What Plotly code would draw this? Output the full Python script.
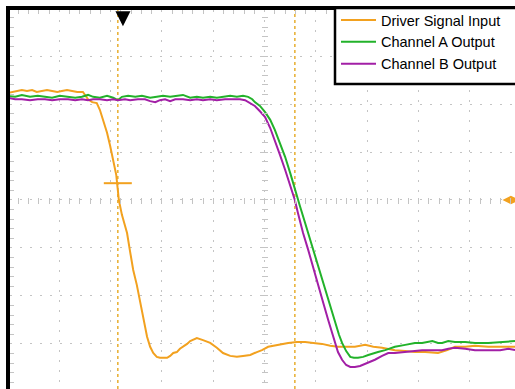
import plotly.graph_objects as go

# ---- data (time in ns, 10 ns/div; voltage in divisions) ----
drv_t = [0.0, 0.8, 1.8, 2.7, 3.7, 4.7, 5.6, 6.6, 7.6, 8.6, 9.6, 10.5, 11.5, 12.5, 13.5, 14.6, 15.6, 16.4,
         17.3, 17.9, 18.5, 19.3, 19.9, 20.5, 21.1, 21.4, 21.6, 22.2, 23.2, 23.8, 24.4, 25.1, 25.7, 26.3,
         27.1, 27.7, 28.3, 29.0, 29.6, 31.0, 31.6, 32.2, 32.9, 33.5, 34.1, 34.9, 35.5, 36.8, 38.0, 39.4,
         40.7, 41.9, 43.3, 44.6, 45.8, 47.2, 48.5, 49.5, 50.7, 52.6, 54.6, 56.3, 57.9, 59.5, 61.2, 62.8,
         64.3, 65.9, 67.6, 69.6, 71.2, 72.9, 75.4, 77.4, 79.3, 81.3, 83.8, 85.6, 87.1, 89.1, 91.0, 93.6,
         95.9, 98.8]
drv_v = [2.23, 2.25, 2.27, 2.29, 2.27, 2.29, 2.25, 2.27, 2.29, 2.27, 2.25, 2.27, 2.29, 2.27, 2.25, 2.25, 2.10, 2.04,
         2.02, 1.88, 1.67, 1.40, 1.13, 0.83, 0.52, 0.21, 0.00, -0.31, -0.69, -1.08, -1.46, -1.77, -2.08, -2.46,
         -2.85, -3.06, -3.19, -3.27, -3.29, -3.29, -3.25, -3.19, -3.17, -3.10, -3.06, -3.00, -2.94, -2.88, -2.92, -2.98,
         -3.08, -3.19, -3.25, -3.27, -3.25, -3.23, -3.17, -3.13, -3.06, -3.02, -2.98, -2.96, -2.96, -2.98, -3.00, -3.04,
         -3.06, -3.06, -3.06, -3.02, -3.06, -3.08, -3.13, -3.15, -3.17, -3.17, -3.19, -3.13, -3.06, -3.06, -3.04, -3.06,
         -3.06, -3.06]

cha_t = [0.0, 1.4, 2.7, 4.3, 5.8, 7.2, 8.6, 10.1, 11.7, 13.1, 14.4, 15.6, 16.6, 17.9, 19.3, 20.5, 21.4, 22.2,
         23.4, 24.8, 26.1, 27.7, 29.0, 30.2, 31.6, 32.9, 34.1, 35.5, 36.8, 38.0, 39.4, 40.7, 41.9, 43.3, 44.6,
         45.8, 46.8, 47.6, 48.1, 49.1, 50.1, 51.1, 52.0, 53.0, 54.0, 55.0, 55.9, 56.9, 57.9, 58.9, 59.8, 60.8,
         61.8, 62.8, 63.7, 64.5, 65.1, 65.9, 66.7, 67.4, 68.2, 69.2, 70.2, 71.2, 72.1, 73.5, 75.4, 77.4, 79.3,
         80.7, 82.7, 83.8, 84.6, 85.8, 87.1, 89.1, 91.0, 93.6, 95.9, 97.5, 98.8]
cha_v = [2.17, 2.15, 2.19, 2.15, 2.17, 2.15, 2.13, 2.17, 2.15, 2.13, 2.15, 2.19, 2.15, 2.13, 2.17, 2.13, 2.08, 2.15,
         2.17, 2.15, 2.17, 2.13, 2.15, 2.17, 2.15, 2.17, 2.19, 2.13, 2.15, 2.13, 2.15, 2.13, 2.15, 2.17, 2.15,
         2.17, 2.15, 2.10, 2.04, 1.96, 1.83, 1.67, 1.46, 1.19, 0.90, 0.56, 0.21, -0.13, -0.48, -0.83, -1.19, -1.52,
         -1.88, -2.23, -2.56, -2.81, -2.98, -3.15, -3.27, -3.29, -3.29, -3.27, -3.23, -3.19, -3.17, -3.13, -3.06, -3.02, -2.98,
         -2.98, -2.94, -2.98, -2.98, -2.94, -2.96, -2.96, -2.98, -2.98, -2.96, -2.94, -2.94]

chb_t = [0.0, 1.4, 2.7, 4.3, 5.8, 7.2, 8.6, 10.1, 11.7, 13.1, 14.4, 15.6, 16.6, 17.9, 19.3, 20.5, 21.4, 22.8,
         23.8, 25.3, 26.7, 27.7, 28.7, 29.6, 30.6, 31.6, 32.6, 34.1, 35.5, 36.8, 38.0, 39.4, 40.7, 42.3, 43.7,
         45.2, 46.2, 47.2, 48.1, 49.1, 50.1, 51.1, 52.0, 53.0, 54.0, 55.0, 55.9, 56.5, 57.5, 58.5, 59.5, 60.4,
         61.4, 62.4, 63.2, 63.7, 64.3, 65.1, 65.9, 66.7, 67.6, 68.6, 69.6, 70.6, 71.5, 72.9, 74.1, 75.4, 77.4,
         78.9, 80.7, 82.7, 84.6, 85.8, 87.1, 89.1, 91.0, 93.6, 95.9, 97.5, 98.8]
chb_v = [2.13, 2.10, 2.10, 2.08, 2.10, 2.10, 2.08, 2.10, 2.10, 2.08, 2.10, 2.08, 2.10, 2.10, 2.08, 2.10, 2.08, 2.10,
         2.08, 2.10, 2.10, 2.06, 2.04, 2.08, 2.10, 2.06, 2.10, 2.10, 2.08, 2.10, 2.08, 2.10, 2.08, 2.10, 2.10,
         2.10, 2.08, 2.02, 1.96, 1.85, 1.73, 1.50, 1.25, 0.94, 0.63, 0.31, 0.00, -0.27, -0.69, -1.04, -1.40, -1.73,
         -2.13, -2.50, -2.77, -2.98, -3.17, -3.33, -3.44, -3.48, -3.48, -3.46, -3.42, -3.38, -3.33, -3.25, -3.19, -3.19, -3.17,
         -3.15, -3.13, -3.13, -3.13, -3.10, -3.08, -3.10, -3.13, -3.13, -3.13, -3.10, -3.13]

series_names = ["Driver Signal Input", "Channel A Output", "Channel B Output"]
cursor_times = [21.4, 55.9]
trigger_time = 22.4
trigger_level = 0.0
trigger_cross = (21.4, 0.35)

ORANGE = "#f2a11f"
GREEN = "#22b22a"
PURPLE = "#a21fa6"
GRID = "#c4c4c4"

XR = [0.39, 98.8]
YR = [-3.94, 3.96]
PW, PH = 505, 379  # plot area size in px

fig = go.Figure()

# cursor lines
for ct in cursor_times:
    fig.add_shape(type="line", xref="x", yref="paper", x0=ct, x1=ct, y0=0, y1=1,
                  line=dict(color="#e9b33c", width=1.6, dash="dot"), layer="below")

fig.add_trace(go.Scatter(x=drv_t, y=drv_v, mode="lines", name=series_names[0],
                         line=dict(color=ORANGE, width=2)))
fig.add_trace(go.Scatter(x=cha_t, y=cha_v, mode="lines", name=series_names[1],
                         line=dict(color=GREEN, width=2)))
fig.add_trace(go.Scatter(x=chb_t, y=chb_v, mode="lines", name=series_names[2],
                         line=dict(color=PURPLE, width=2)))

# trigger level cross marker and right-edge level marker
fig.add_trace(go.Scatter(x=[trigger_cross[0]], y=[trigger_cross[1]], mode="markers", showlegend=False,
                         hoverinfo="skip",
                         marker=dict(symbol="line-ew", size=20, line=dict(color=ORANGE, width=2))))
fig.add_trace(go.Scatter(x=[98.0], y=[trigger_level], mode="markers", showlegend=False,
                         hoverinfo="skip", cliponaxis=False,
                         marker=dict(symbol="diamond-wide", size=12, color=ORANGE)))

# helper empty traces so the centre-tick axes render
fig.add_trace(go.Scatter(x=[], y=[], xaxis="x2", yaxis="y", showlegend=False, hoverinfo="skip"))
fig.add_trace(go.Scatter(x=[], y=[], xaxis="x", yaxis="y2", showlegend=False, hoverinfo="skip"))

# trigger position arrow
fig.add_annotation(x=trigger_time, y=3.62, xref="x", yref="y", text="", showarrow=True,
                   ax=0, ay=-14, arrowhead=2, arrowsize=1.0, arrowwidth=3, arrowcolor="black")

# legend frame (box extends past the right edge as in the original screenshot)
fig.add_shape(type="rect", xref="paper", yref="paper",
              x0=(335 - 10) / PW, x1=1.05, y0=(389 - 84) / PH, y1=1 + 2 / PH,
              line=dict(color="black", width=2.5), fillcolor="white", layer="above")

fig.update_layout(
    width=515, height=389,
    margin=dict(l=10, r=0, t=10, b=0, autoexpand=False),
    paper_bgcolor="white", plot_bgcolor="white",
    showlegend=True,
    legend=dict(x=(336 - 10) / PW, y=1 + 6 / PH, xanchor="left", yanchor="top",
                bgcolor="rgba(0,0,0,0)", borderwidth=0,
                font=dict(family="Liberation Sans, Arial, sans-serif", size=14.5, color="black"),
                itemwidth=35, tracegroupgap=0),
    xaxis=dict(range=XR, side="top", showline=True, linecolor="black", linewidth=3.5,
               showgrid=True, gridcolor=GRID, griddash="2px,8px", gridwidth=1.2,
               dtick=10, tick0=0, ticks="", showticklabels=False, zeroline=False,
               minor=dict(ticks="inside", ticklen=4, tickcolor=GRID, dtick=2, tick0=0, showgrid=False),
               fixedrange=True),
    yaxis=dict(range=YR, side="left", showline=True, linecolor="black", linewidth=3.5,
               showgrid=True, gridcolor=GRID, griddash="2px,8px", gridwidth=1.2,
               dtick=1, tick0=0, ticks="", showticklabels=False, zeroline=False,
               minor=dict(ticks="inside", ticklen=4, tickcolor=GRID, dtick=0.2, tick0=0, showgrid=False),
               fixedrange=True),
    xaxis2=dict(range=XR, overlaying="x", anchor="free", position=(0 - YR[0]) / (YR[1] - YR[0]) + 3 / PH,
                side="bottom", showline=False, showgrid=False, zeroline=False, showticklabels=False,
                ticks="outside", ticklen=6, tickcolor=GRID, tickwidth=1, dtick=2, tick0=0),
    yaxis2=dict(range=YR, overlaying="y", anchor="free", position=(50 - XR[0]) / (XR[1] - XR[0]) + 3 / PW,
                side="left", showline=False, showgrid=False, zeroline=False, showticklabels=False,
                ticks="outside", ticklen=6, tickcolor=GRID, tickwidth=1, dtick=0.2, tick0=0),
)

fig.write_html("out.html")
